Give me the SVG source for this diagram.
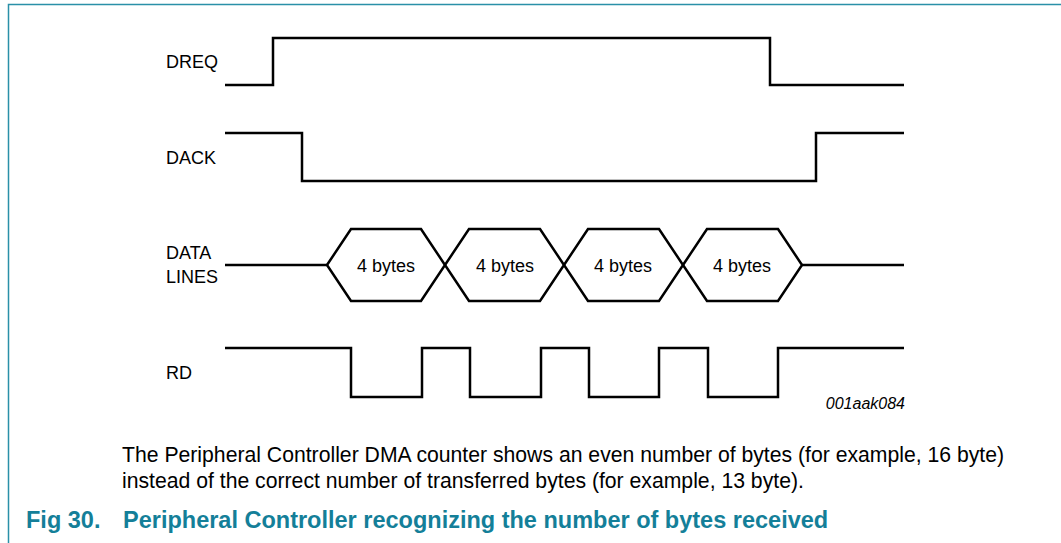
<svg xmlns="http://www.w3.org/2000/svg" width="1061" height="543" viewBox="0 0 1061 543">
<style>
.sig{fill:none;stroke:#000;stroke-width:2.5;stroke-linejoin:miter}
.lbl{font-family:"Liberation Sans",Arial,sans-serif;font-size:18px;fill:#000}
.id{font-family:"Liberation Sans",Arial,sans-serif;font-size:16px;font-style:italic;fill:#000}
.body{font-family:"Liberation Sans",Arial,sans-serif;font-size:21.2px;fill:#000}
.cap{font-family:"Liberation Sans",Arial,sans-serif;font-size:23.5px;font-weight:bold;fill:#147f99}
.frame{fill:none;stroke:#2a90a8;stroke-width:1.5}
</style>
<rect width="1061" height="543" fill="#fff"/>
<path class="frame" d="M8.5,543 V4.5 H1061"/>
<g id="dreq">
<text class="lbl" x="166" y="68">DREQ</text>
<path class="sig" d="M225,85 H273 V38 H770 V85 H904"/>
</g>
<g id="dack">
<text class="lbl" x="166" y="164">DACK</text>
<path class="sig" d="M225,133 H302 V181 H816 V133 H904"/>
</g>
<g id="data-lines">
<text class="lbl" x="166" y="259">DATA</text>
<text class="lbl" x="166" y="283">LINES</text>
<path class="sig" d="M225,265 H327"/>
<path class="sig" d="M802,265 H904"/>
<polygon class="sig" points="327,265 351,229 421,229 445,265 421,301 351,301"/>
<polygon class="sig" points="445,265 469,229 540,229 564,265 540,301 469,301"/>
<polygon class="sig" points="564,265 588,229 659,229 683,265 659,301 588,301"/>
<polygon class="sig" points="683,265 707,229 778,229 802,265 778,301 707,301"/>
<text class="lbl" x="386" y="272" text-anchor="middle">4 bytes</text>
<text class="lbl" x="505" y="272" text-anchor="middle">4 bytes</text>
<text class="lbl" x="623" y="272" text-anchor="middle">4 bytes</text>
<text class="lbl" x="742" y="272" text-anchor="middle">4 bytes</text>
</g>
<g id="rd">
<text class="lbl" x="166" y="379">RD</text>
<path class="sig" d="M225,348 H351 V397 H422 V348 H470 V397 H541 V348 H589 V397 H659 V348 H708 V397 H778 V348 H904"/>
</g>
<g id="connectors"></g>
<text class="id" x="905" y="409" text-anchor="end">001aak084</text>
<text class="body" x="122" y="462">The Peripheral Controller DMA counter shows an even number of bytes (for example, 16 byte)</text>
<text class="body" x="122" y="488">instead of the correct number of transferred bytes (for example, 13 byte).</text>
<text class="cap" x="26" y="528">Fig 30.</text>
<text class="cap" x="123" y="528">Peripheral Controller recognizing the number of bytes received</text>
</svg>
